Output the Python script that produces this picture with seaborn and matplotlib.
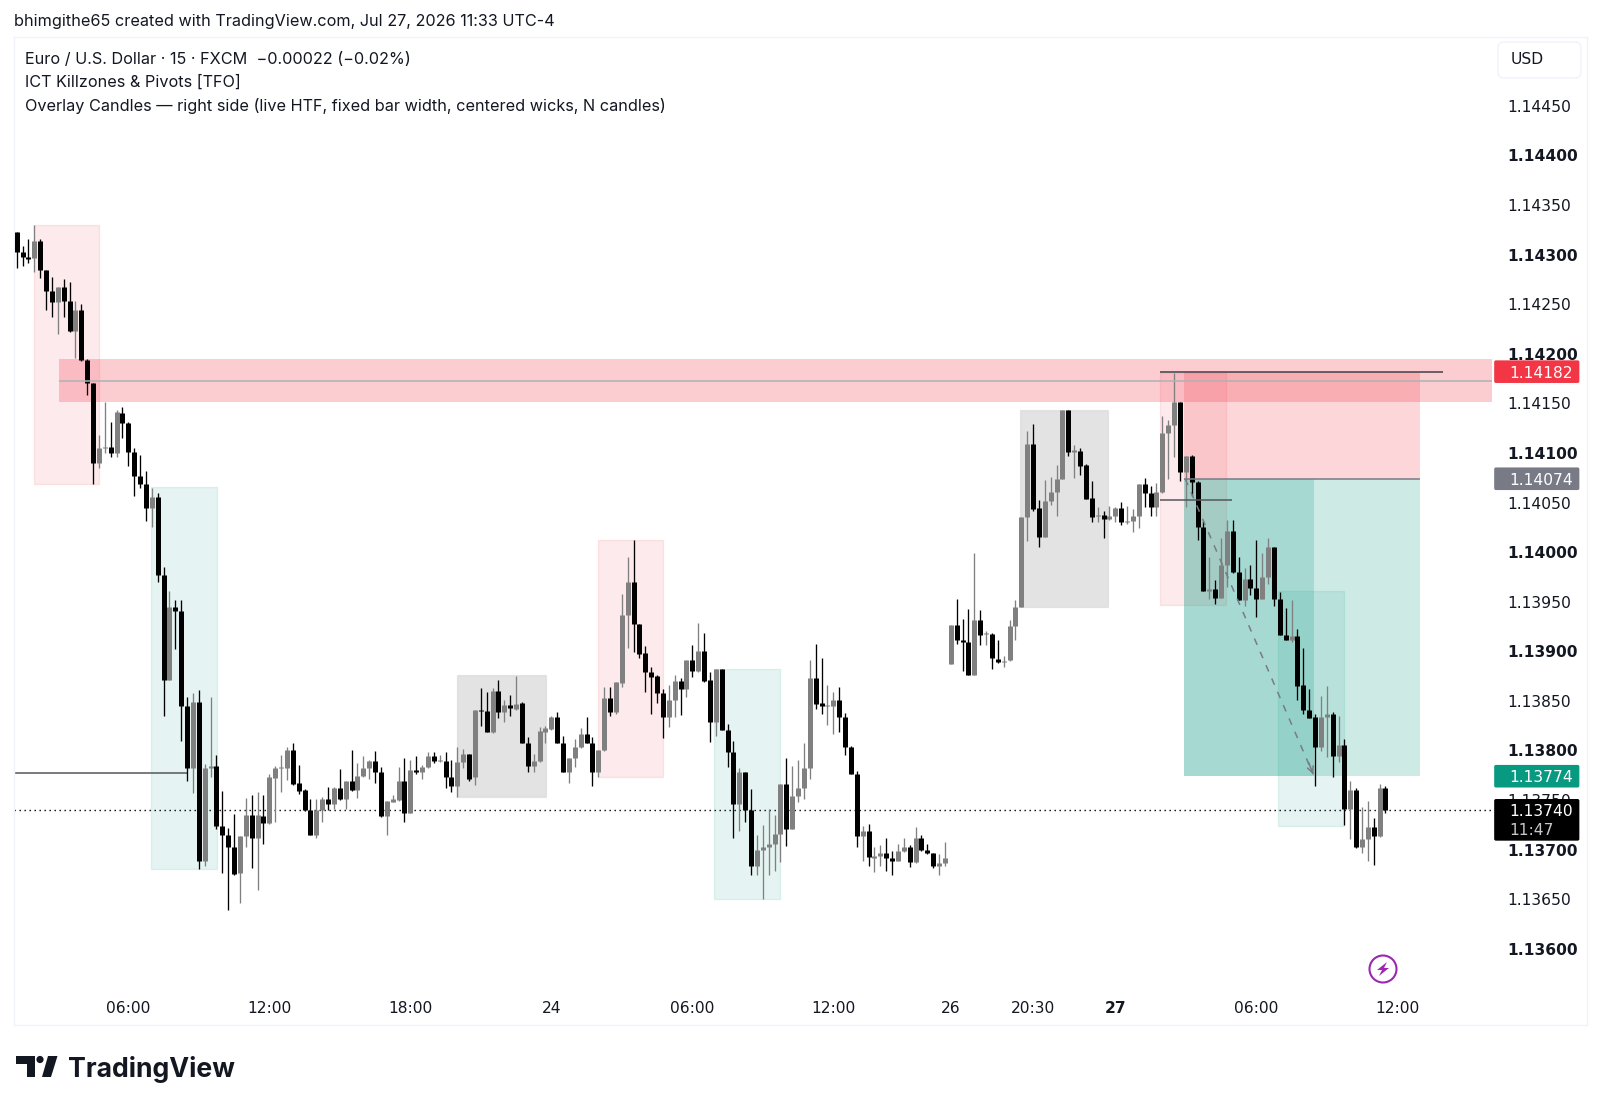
import matplotlib
matplotlib.use("Agg")
import matplotlib.pyplot as plt
import numpy as np
import pandas as pd
import seaborn as sns
from matplotlib.colors import to_rgba
from matplotlib.patches import Circle, FancyBboxPatch, Polygon, Rectangle
from matplotlib.transforms import Affine2D

# EURUSD 15 min bars, prices in 1e-5 points
opens = [114323, 114303, 114298, 114297, 114314, 114285, 114263, 114252, 114267, 114253,
         114223, 114244, 114194, 114171, 114090, 114105, 114106, 114100, 114140, 114130,
         114101, 114077, 114069, 114044, 114056, 113977, 113871, 113945, 113941, 113845,
         113782, 113849, 113688, 113782, 113784, 113724, 113715, 113703, 113676, 113714,
         113735, 113712, 113734, 113727, 113772, 113782, 113782, 113800, 113767, 113760,
         113740, 113715, 113740, 113751, 113746, 113762, 113751, 113769, 113760, 113774,
         113782, 113789, 113778, 113734, 113748, 113750, 113769, 113737, 113780, 113778,
         113783, 113794, 113789, 113789, 113773, 113764, 113788, 113796, 113773, 113841,
         113840, 113819, 113860, 113839, 113846, 113842, 113848, 113808, 113784, 113789,
         113819, 113822, 113834, 113808, 113778, 113792, 113803, 113817, 113808, 113778,
         113800, 113853, 113839, 113868, 113937, 113970, 113928, 113898, 113879, 113875,
         113858, 113834, 113851, 113870, 113862, 113891, 113880, 113900, 113871, 113829,
         113882, 113821, 113798, 113746, 113778, 113740, 113683, 113700, 113703, 113706,
         113716, 113766, 113721, 113754, 113762, 113782, 113873, 113848, 113845, 113845,
         113851, 113834, 113803, 113776, 113714, 113719, 113692, 113694, 113697, 113692,
         113688, 113699, 113703, 113687, 113712, 113700, 113697, 113683, 113686,
         113887, 113927, 113911, 113909, 113876, 113932, 113917, 113917, 113892, 113889, 113891,
         113925, 113945, 114035, 114109, 114044, 114015, 114052, 114061, 114074, 114143,
         114101, 114102, 114088, 114055, 114036, 114037, 114033, 114036, 114044, 114030,
         114031, 114036, 114069, 114060, 114045, 114061, 114120, 114128, 114151, 114081,
         114097, 114071, 114025, 113961, 113963, 113954, 113987, 114021, 113980, 113952,
         113973, 113964, 113953, 113975, 114005, 113953, 113916, 113911, 113915, 113866,
         113841, 113834, 113803, 113834, 113837, 113794, 113805, 113741, 113760, 113703,
         113711, 113723, 113714, 113762]
closes = [114303, 114298, 114296, 114314, 114285, 114263, 114252, 114267, 114253, 114223,
          114244, 114194, 114171, 114090, 114105, 114106, 114100, 114141, 114130, 114101,
          114077, 114069, 114044, 114056, 113977, 113871, 113945, 113941, 113845, 113782,
          113849, 113688, 113782, 113784, 113724, 113715, 113703, 113675, 113714, 113735,
          113712, 113735, 113727, 113773, 113782, 113783, 113800, 113766, 113759, 113740,
          113715, 113740, 113751, 113746, 113762, 113751, 113769, 113760, 113774, 113782,
          113789, 113778, 113734, 113749, 113751, 113769, 113737, 113780, 113778, 113783,
          113794, 113789, 113790, 113773, 113764, 113788, 113796, 113771, 113841, 113840,
          113819, 113860, 113839, 113846, 113843, 113847, 113808, 113784, 113789, 113820,
          113823, 113834, 113808, 113778, 113792, 113803, 113817, 113808, 113778, 113800,
          113853, 113839, 113869, 113937, 113970, 113928, 113897, 113879, 113874, 113858,
          113834, 113851, 113870, 113862, 113891, 113880, 113900, 113870, 113829, 113882,
          113821, 113798, 113746, 113778, 113740, 113683, 113700, 113703, 113706, 113716,
          113766, 113721, 113754, 113762, 113782, 113873, 113847, 113845, 113846, 113851,
          113834, 113803, 113776, 113714, 113719, 113693, 113694, 113697, 113692, 113688,
          113699, 113703, 113687, 113712, 113700, 113697, 113683, 113686, 113692,
          113927, 113911, 113909, 113876, 113932, 113916, 113918, 113893, 113889, 113890, 113925,
          113945, 114035, 114109, 114043, 114015, 114052, 114061, 114074, 114143, 114101,
          114103, 114087, 114054, 114035, 114037, 114033, 114036, 114044, 114030, 114031,
          114036, 114069, 114060, 114045, 114061, 114120, 114128, 114151, 114081, 114097,
          114071, 114025, 113961, 113963, 113954, 113987, 114021, 113980, 113952, 113973,
          113964, 113953, 113975, 114005, 113953, 113916, 113911, 113915, 113865, 113841,
          113833, 113803, 113834, 113837, 113794, 113805, 113741, 113760, 113703, 113711,
          113723, 113714, 113762, 113740]
highs = [114323, 114309, 114316, 114330, 114316, 114285, 114277, 114267, 114275, 114272,
         114253, 114250, 114195, 114171, 114118, 114151, 114131, 114143, 114146, 114131,
         114105, 114098, 114082, 114065, 114060, 113985, 113961, 113952, 113952, 113854,
         113858, 113861, 113786, 113854, 113795, 113759, 113722, 113736, 113714, 113752,
         113755, 113758, 113755, 113776, 113784, 113795, 113803, 113808, 113785, 113761,
         113751, 113751, 113753, 113763, 113763, 113781, 113769, 113800, 113787, 113794,
         113790, 113799, 113783, 113749, 113755, 113783, 113792, 113790, 113794, 113785,
         113798, 113798, 113795, 113798, 113790, 113803, 113801, 113796, 113841, 113863,
         113859, 113863, 113871, 113851, 113856, 113875, 113849, 113814, 113796, 113824,
         113825, 113835, 113839, 113815, 113792, 113812, 113823, 113834, 113814, 113800,
         113864, 113864, 113869, 113958, 113995, 114012, 113928, 113905, 113884, 113876,
         113862, 113866, 113876, 113873, 113891, 113906, 113929, 113918, 113879, 113882,
         113882, 113827, 113810, 113782, 113778, 113761, 113715, 113725, 113741, 113735,
         113766, 113792, 113784, 113790, 113808, 113891, 113907, 113893, 113866, 113859,
         113864, 113838, 113804, 113779, 113724, 113726, 113703, 113705, 113712, 113699,
         113706, 113712, 113705, 113723, 113715, 113706, 113697, 113696, 113708,
         113927, 113953, 113933, 113943, 113999, 113942, 113920, 113918, 113911, 113895, 113932,
         113952, 114035, 114122, 114129, 114053, 114073, 114076, 114088, 114143, 114143,
         114108, 114105, 114089, 114072, 114046, 114041, 114047, 114046, 114051, 114047,
         114043, 114069, 114075, 114067, 114070, 114137, 114133, 114181, 114151, 114097,
         114098, 114072, 114031, 113995, 113972, 114014, 114032, 114032, 113995, 113984,
         113987, 114012, 113999, 114014, 114005, 113960, 113944, 113952, 113922, 113903,
         113862, 113837, 113855, 113865, 113839, 113835, 113812, 113769, 113762, 113743,
         113749, 113732, 113766, 113764]
lows = [114287, 114289, 114292, 114283, 114276, 114244, 114237, 114220, 114237, 114222,
        114196, 114193, 114158, 114069, 114085, 114100, 114096, 114096, 114115, 114087,
        114057, 114065, 114031, 114025, 113970, 113835, 113871, 113902, 113810, 113769,
        113757, 113680, 113683, 113773, 113721, 113676, 113639, 113674, 113646, 113703,
        113681, 113659, 113706, 113726, 113728, 113758, 113770, 113765, 113756, 113739,
        113715, 113712, 113728, 113740, 113741, 113750, 113741, 113759, 113752, 113773,
        113771, 113767, 113733, 113715, 113748, 113749, 113728, 113737, 113776, 113771,
        113782, 113787, 113788, 113762, 113758, 113753, 113782, 113769, 113765, 113825,
        113819, 113818, 113833, 113829, 113835, 113841, 113807, 113778, 113778, 113788,
        113807, 113821, 113807, 113778, 113767, 113783, 113802, 113808, 113764, 113773,
        113799, 113835, 113837, 113864, 113903, 113899, 113893, 113859, 113837, 113848,
        113813, 113824, 113834, 113836, 113854, 113874, 113879, 113869, 113809, 113815,
        113821, 113783, 113712, 113719, 113728, 113674, 113674, 113650, 113674, 113678,
        113687, 113704, 113721, 113748, 113751, 113771, 113842, 113837, 113826, 113817,
        113819, 113795, 113776, 113703, 113688, 113683, 113677, 113683, 113678, 113674,
        113688, 113698, 113682, 113686, 113699, 113696, 113681, 113674, 113683,
        113887, 113907, 113880, 113876, 113876, 113906, 113906, 113882, 113888, 113884, 113890,
        113911, 113945, 114011, 114041, 114005, 114015, 114048, 114036, 114074, 114097,
        114075, 114078, 114054, 114030, 114030, 114014, 114032, 114030, 114027, 114028,
        114020, 114024, 114046, 114036, 114036, 114060, 114074, 114096, 114072, 114046,
        114057, 114012, 113961, 113953, 113948, 113954, 113965, 113979, 113952, 113946,
        113957, 113935, 113953, 113968, 113946, 113916, 113911, 113909, 113851, 113837,
        113833, 113764, 113799, 113793, 113773, 113788, 113725, 113711, 113702, 113697,
        113688, 113684, 113713, 113737]

# killzone boxes: first bar, last bar, top, bottom
zone_left = [2.95, 22.86, 74.95, 98.9, 118.75, 170.8, 194.7, 214.7]
zone_right = [14.07, 34.04, 90.04, 110.05, 129.9, 185.75, 205.8, 225.9]
zone_top = [114330, 114066, 113876, 114012, 113882, 114143, 114181, 113961]
zone_bottom = [114069, 113680, 113753, 113773, 113650, 113945, 113947, 113724]
zone_kind = ["pink", "teal", "grey", "pink", "teal", "grey", "pink", "teal"]

# position tool and supply band
stop_price = 114182
entry_price = 114074
target_price = 113774
last_price = 113740
band_top = 114195
band_bottom = 114151
band_mid = 114173
pivot_low_left = 113777
pivot_mid = 114053

price_ticks = [114450, 114400, 114350, 114300, 114250, 114200, 114150, 114100, 114050,
               114000, 113950, 113900, 113850, 113800, 113750, 113700, 113650, 113600]
time_ticks = [19, 43, 67, 91, 115, 139, 159, 173, 187, 211, 235]
time_labels = ["06:00", "12:00", "18:00", "24", "06:00", "12:00", "26", "20:30", "27", "06:00", "12:00"]

tag_prices = [114182, 114074, 113774]
tag_colors = ["#f23645", "#787b86", "#089981"]

POINT = 1e-5
W, H = 1600, 1108

sns.set_theme(style="white")
plt.rcParams["font.family"] = ["DejaVu Sans"]

fig = plt.figure(figsize=(W / 100, H / 100), dpi=100, facecolor="white")
ax = fig.add_axes([14 / W, 1 - 1025 / H, (1587 - 14) / W, (1025 - 37) / H])
px = Affine2D().scale(1, -1).translate(0, H)  # figure furniture in image pixels

bars = np.arange(len(opens))
frame = pd.DataFrame({"bar": bars, "open": opens, "close": closes, "high": highs, "low": lows})
frame["side"] = np.where(frame["close"] < frame["open"], "down", "up")
palette = {"down": "#000000", "up": "#808080"}

wicks = frame.melt(id_vars=["bar", "side"], value_vars=["high", "low"], value_name="pts")
bodies = frame.melt(id_vars=["bar", "side"], value_vars=["open", "close"], value_name="pts")
wicks["price"] = wicks["pts"] * POINT
bodies["price"] = bodies["pts"] * POINT

# shaded boxes first
zone_colors = {"pink": "#f23645", "teal": "#089981", "grey": "#757575"}
zone_alpha = {"pink": 0.1, "teal": 0.1, "grey": 0.2}
for l, r, t, b, kind in zip(zone_left, zone_right, zone_top, zone_bottom, zone_kind):
    c = zone_colors[kind]
    ax.add_patch(Rectangle((l, b * POINT), r - l, (t - b) * POINT, lw=1,
                           facecolor=to_rgba(c, zone_alpha[kind]), edgecolor=to_rgba(c, 0.11), zorder=1))

ax.add_patch(Rectangle((7.2, band_bottom * POINT), 251.2 - 7.2, (band_top - band_bottom) * POINT,
                       facecolor=to_rgba("#f23645", 0.25), lw=0, zorder=1))
ax.add_patch(Rectangle((198.7, entry_price * POINT), 238.8 - 198.7, (stop_price - entry_price) * POINT,
                       facecolor=to_rgba("#f23645", 0.2), lw=0, zorder=1))
ax.add_patch(Rectangle((198.7, target_price * POINT), 238.8 - 198.7, (entry_price - target_price) * POINT,
                       facecolor=to_rgba("#089981", 0.2), lw=0, zorder=1))
ax.add_patch(Rectangle((198.7, target_price * POINT), 220.8 - 198.7, (entry_price - target_price) * POINT,
                       facecolor=to_rgba("#089981", 0.2), lw=0, zorder=1))

sns.lineplot(data=wicks, x="bar", y="price", units="bar", estimator=None, hue="side", palette=palette,
             linewidth=0.95, legend=False, ax=ax, zorder=3, solid_capstyle="butt")
sns.lineplot(data=bodies, x="bar", y="price", units="bar", estimator=None, hue="side", palette=palette,
             linewidth=3.6, legend=False, ax=ax, zorder=3, solid_capstyle="butt")

ax.hlines(band_mid * POINT, 7.2, 251.2, color="#adb3b5", lw=1.1, zorder=4)
ax.hlines(stop_price * POINT, 194.7, 242.8, color="#3f4248", lw=1.1, zorder=4)
ax.hlines(entry_price * POINT, 198.7, 238.8, color="#787b86", lw=1.1, zorder=4)
ax.hlines(pivot_mid * POINT, 194.7, 206.9, color="#55565c", lw=1.1, zorder=4)
ax.hlines(pivot_low_left * POINT, -0.46, 29, color="#55565c", lw=1.1, zorder=2)
ax.hlines(last_price * POINT, -0.46, 251.2, color="#000000", lw=1, linestyles=(0, (1, 2.6)), zorder=2)

# dashed move from entry to target
ax.plot([198.9, 220.7], [entry_price * POINT, (target_price + 2) * POINT], color="#787b86", lw=1.1,
        linestyle=(0, (4.5, 5)), zorder=4)
ax.annotate("", xy=(220.7, (target_price + 2) * POINT), xytext=(219.9, (target_price + 14) * POINT),
            arrowprops=dict(arrowstyle="->", color="#787b86", lw=1.1, mutation_scale=11, shrinkA=0, shrinkB=0),
            zorder=4)

# price tags on the scale
tag_left, tag_right = 251.5, 266.0
tag_half = 11.4
for p, c in zip(tag_prices, tag_colors):
    ax.add_patch(FancyBboxPatch((tag_left, (p - tag_half) * POINT), tag_right - tag_left, 2 * tag_half * POINT,
                                boxstyle="round,pad=0,rounding_size=0.3", mutation_aspect=5.9e-5,
                                facecolor=c, lw=0, zorder=5))
    ax.text(254.0, p * POINT, f"{p * POINT:.5f}", color="white", fontsize=11.2, va="center_baseline", ha="left", zorder=6)
ax.add_patch(FancyBboxPatch((tag_left, (last_price - 31) * POINT), tag_right - tag_left, 42 * POINT,
                            boxstyle="round,pad=0,rounding_size=0.3", mutation_aspect=5.9e-5,
                            facecolor="#000000", lw=0, zorder=5))
ax.text(254.0, last_price * POINT, f"{last_price * POINT:.5f}", color="white", fontsize=11.2,
        va="center_baseline", ha="left", zorder=6)
ax.text(254.0, (last_price - 19.5) * POINT, "11:47", color="#c8c8c8", fontsize=11.2,
        va="center_baseline", ha="left", zorder=6)

ax.set_xlim(-0.46, 267.3)
ax.set_ylim(113523.1 * POINT, 114519.5 * POINT)
ax.set(xlabel="", ylabel="")
ax.yaxis.tick_right()
ax.set_yticks([p * POINT for p in price_ticks])
ax.set_yticklabels([f"{p * POINT:.5f}" for p in price_ticks])
ax.set_xticks(time_ticks)
ax.set_xticklabels(time_labels)
ax.tick_params(axis="y", length=0, pad=-57.6, labelsize=11.2, labelcolor="#131722")
ax.tick_params(axis="x", length=0, pad=-17.3, labelsize=11.2, labelcolor="#131722")
for p, lab in zip(price_ticks, ax.get_yticklabels()):
    if p % 100 == 0:
        lab.set_fontweight("bold")
for lab in ax.get_xticklabels():
    if lab.get_text() == "27":
        lab.set_fontweight("bold")
for s in ax.spines.values():
    s.set_color("#f0f3fa")
    s.set_linewidth(1)

# header texts
fig.text(14 / W, 1 - 21.7 / H, "bhimgithe65 created with TradingView.com, Jul 27, 2026 11:33 UTC-4",
         family="Inter", fontsize=11.7, color="#131722", va="center")
for y, line in zip([59, 82, 105.5], ["Euro / U.S. Dollar · 15 · FXCM  −0.00022 (−0.02%)",
                                     "ICT Killzones & Pivots [TFO]",
                                     "Overlay Candles — right side (live HTF, fixed bar width, centered wicks, N candles)"]):
    fig.text(25 / W, 1 - y / H, line, family="Inter", fontsize=11.7, color="#131722", va="center")

# currency button
fig.add_artist(FancyBboxPatch((1498, 42), 83, 36, boxstyle="round,pad=0,rounding_size=6", transform=px,
                              facecolor="white", edgecolor="#f0f3fa", lw=1))
fig.text(1511 / W, 1 - 60 / H, "USD", fontsize=11.2, color="#131722", va="center")

# lightning badge
fig.add_artist(Circle((1383, 969), 13.5, transform=px, facecolor="none", edgecolor="#9c27b0", lw=1.5))
fig.add_artist(Polygon([(1387, 962), (1377, 970), (1382, 970), (1379, 976), (1389, 968), (1384, 968)],
                       transform=px, facecolor="#9c27b0", lw=0))

# logo
fig.add_artist(Polygon([(16, 1056), (35, 1056), (35, 1077), (27.3, 1077), (27.3, 1063.5), (16, 1063.5)],
                       transform=px, facecolor="#131722", lw=0))
fig.add_artist(Circle((40, 1059.5), 3.6, transform=px, facecolor="#131722", lw=0))
fig.add_artist(Polygon([(48, 1056), (57.5, 1056), (51, 1077), (42, 1077)], transform=px, facecolor="#131722", lw=0))
fig.text(68 / W, 1 - 1077 / H, "TradingView", family="Inter", fontweight="bold", fontsize=19.2, color="#131722", va="baseline")

fig.savefig("out.png", dpi=100)
